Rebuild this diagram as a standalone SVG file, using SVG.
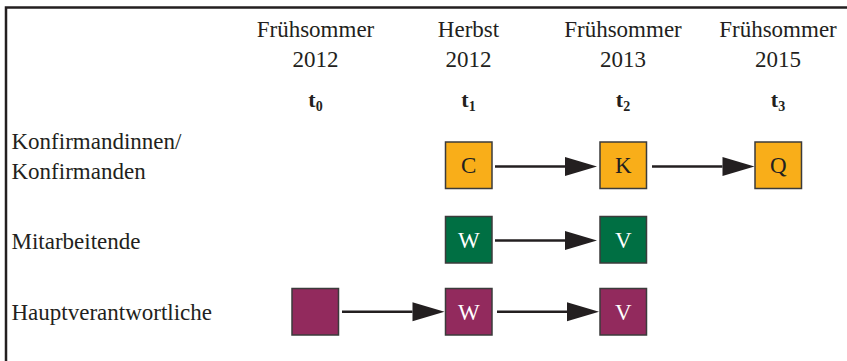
<svg xmlns="http://www.w3.org/2000/svg" width="847" height="361" viewBox="0 0 847 361">
  <style>
    .t { font-family: "Liberation Serif", "Times New Roman", serif; font-size: 23px; fill: #231f20; }
    .h { text-anchor: middle; }
    .b { font-weight: bold; font-size: 22px; }
    .box { stroke: #3b3b3b; stroke-width: 1.5; }
    .o { fill: #F9AE19; }
    .g { fill: #006F43; }
    .p { fill: #922A5D; }
    .lb { font-family: "Liberation Serif", "Times New Roman", serif; font-size: 23px; text-anchor: middle; }
    .dk { fill: #231f20; }
    .wh { fill: #ffffff; }
    .arrow { stroke: #231f20; stroke-width: 2.5; fill: none; marker-end: url(#head); }
  </style>
  <defs>
    <marker id="head" markerUnits="userSpaceOnUse" markerWidth="33" markerHeight="20" refX="0" refY="9.5" orient="auto" overflow="visible">
      <path d="M0,0 L32,9.5 L0,19 Z" fill="#231f20"/>
    </marker>
  </defs>
  <rect width="847" height="361" fill="#ffffff"/>
  <path d="M6,361 V7.5 H847" fill="none" stroke="#231f20" stroke-width="2.5"/>

  <g id="header">
    <text class="t h" x="315.5" y="37">Frühsommer</text>
    <text class="t h" x="315.5" y="67">2012</text>
    <text class="t h b" x="315.5" y="107">t<tspan font-size="14" dy="4">0</tspan></text>
    <text class="t h" x="468.5" y="37">Herbst</text>
    <text class="t h" x="468.5" y="67">2012</text>
    <text class="t h b" x="468.5" y="107">t<tspan font-size="14" dy="4">1</tspan></text>
    <text class="t h" x="623" y="37">Frühsommer</text>
    <text class="t h" x="623" y="67">2013</text>
    <text class="t h b" x="623" y="107">t<tspan font-size="14" dy="4">2</tspan></text>
    <text class="t h" x="778" y="37">Frühsommer</text>
    <text class="t h" x="778" y="67">2015</text>
    <text class="t h b" x="778" y="107">t<tspan font-size="14" dy="4">3</tspan></text>
  </g>

  <g id="row-labels">
    <text class="t" x="11.5" y="148.5">Konfirmandinnen/</text>
    <text class="t" x="11.5" y="178.5">Konfirmanden</text>
    <text class="t" x="11.5" y="248.5">Mitarbeitende</text>
    <text class="t" x="11.5" y="320">Hauptverantwortliche</text>
  </g>

  <g id="connectors">
    <line class="arrow" x1="495" y1="166.5" x2="565" y2="166.5"/>
    <line class="arrow" x1="652" y1="166.5" x2="722.5" y2="166.5"/>
    <line class="arrow" x1="495" y1="240.5" x2="565" y2="240.5"/>
    <line class="arrow" x1="342" y1="311.8" x2="412.5" y2="311.8"/>
    <line class="arrow" x1="497" y1="311.8" x2="567" y2="311.8"/>
  </g>

  <g id="node-C">
    <rect class="box o" x="445.5" y="142" width="46.5" height="46.5"/>
    <text class="lb dk" x="468.75" y="173">C</text>
  </g>
  <g id="node-K">
    <rect class="box o" x="600" y="142" width="46.5" height="46.5"/>
    <text class="lb dk" x="623.25" y="173">K</text>
  </g>
  <g id="node-Q">
    <rect class="box o" x="755" y="142" width="46.5" height="46.5"/>
    <text class="lb dk" x="778.25" y="173">Q</text>
  </g>
  <g id="node-W-mit">
    <rect class="box g" x="445.5" y="216.5" width="46.5" height="46.5"/>
    <text class="lb wh" x="468.75" y="247.5">W</text>
  </g>
  <g id="node-V-mit">
    <rect class="box g" x="600" y="216.5" width="46.5" height="46.5"/>
    <text class="lb wh" x="623.25" y="247.5">V</text>
  </g>
  <g id="node-H0">
    <rect class="box p" x="292" y="288.5" width="46.5" height="46.5"/>
  </g>
  <g id="node-W-haupt">
    <rect class="box p" x="445.5" y="288.5" width="46.5" height="46.5"/>
    <text class="lb wh" x="468.75" y="319.5">W</text>
  </g>
  <g id="node-V-haupt">
    <rect class="box p" x="600" y="288.5" width="46.5" height="46.5"/>
    <text class="lb wh" x="623.25" y="319.5">V</text>
  </g>
</svg>
